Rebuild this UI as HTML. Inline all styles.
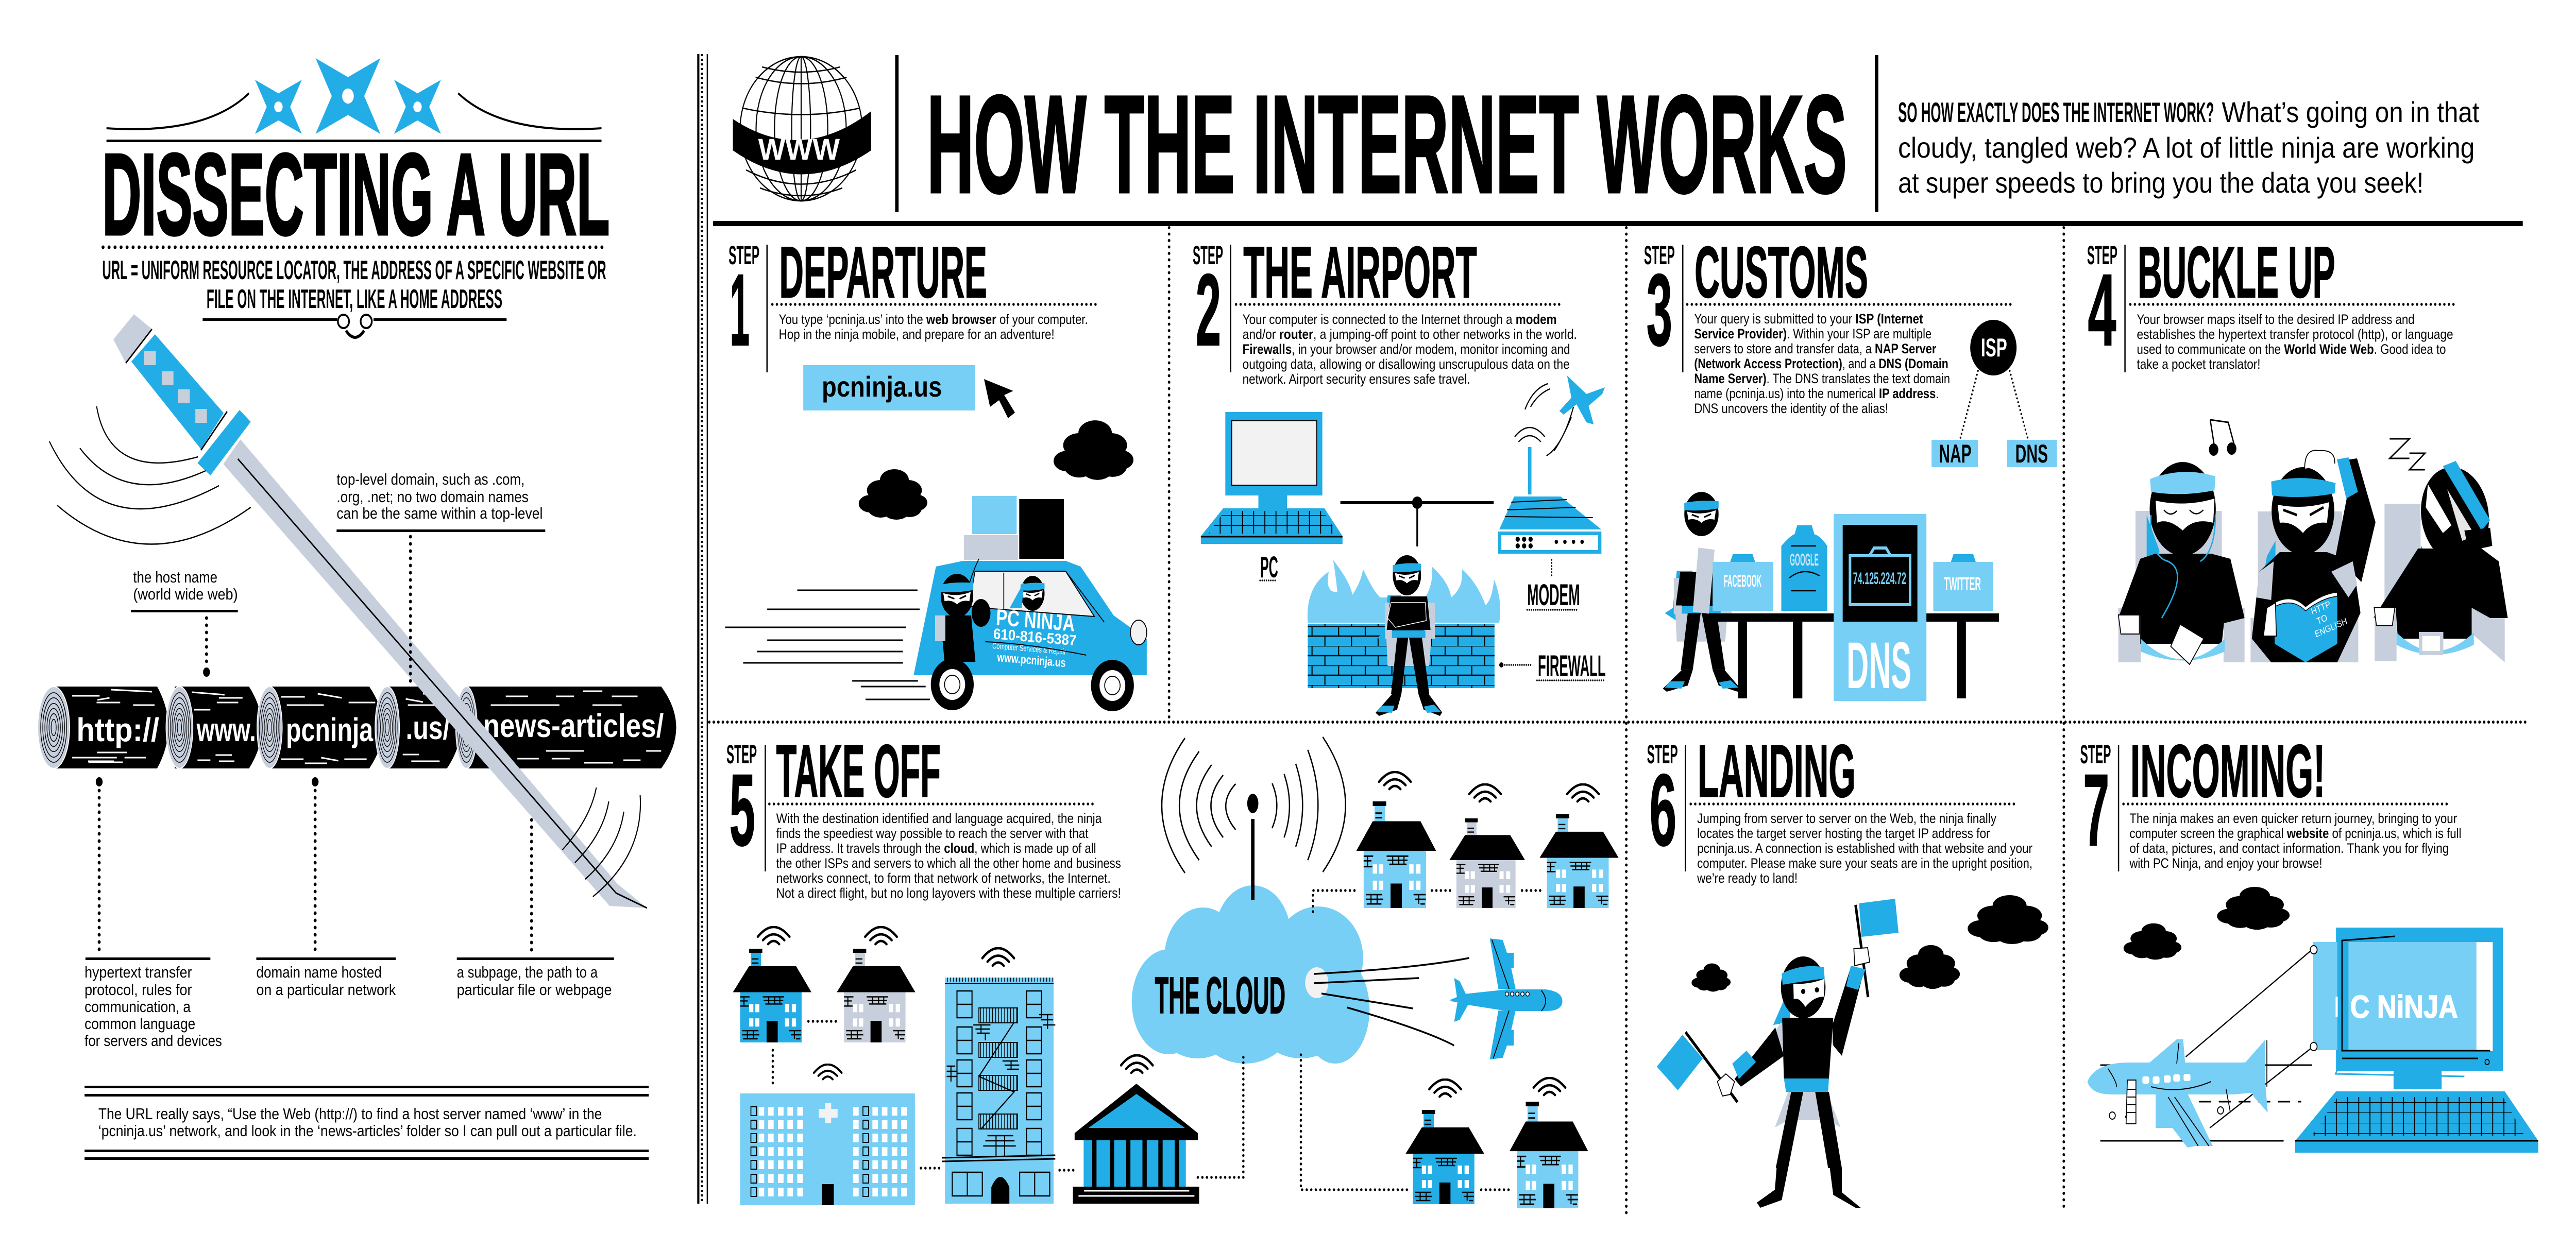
<!DOCTYPE html>
<html lang="en"><head><meta charset="utf-8"><title>How the Internet Works</title>
<style>
html,body{margin:0;padding:0;background:#fff;width:100%;height:100%;overflow:hidden}
svg.root{display:block;width:100vw;height:100vh}
text{font-family:"Liberation Sans",sans-serif}
.n{font-family:"Liberation Sans Narrow","Liberation Sans",sans-serif;font-weight:700}
.t{font-size:27px;fill:#000}
.c{font-size:31px;fill:#000}
.b{font-weight:700}
.w{fill:#fff}
.d{stroke:#000;stroke-width:7;stroke-linecap:round;stroke-dasharray:0 14;fill:none}
.s{stroke:#000;stroke-width:5.5;stroke-linecap:round;stroke-dasharray:0 10.6;fill:none}
.k{stroke:#000;stroke-width:3;fill:none}
.g{stroke:#000;stroke-width:2.5;fill:none}
.wl{stroke:#fff;stroke-width:3;fill:none}
</style></head><body>
<svg class="root" xmlns="http://www.w3.org/2000/svg" viewBox="0 0 6000 2427" preserveAspectRatio="none">
<defs>
<symbol id="shu" viewBox="-50 -50 100 100" preserveAspectRatio="none"><path d="M-50-50 0-25 50-50 25 0 50 50 0 25-50 50-25 0z" fill="#22ADE6"/><ellipse rx="9" ry="10" fill="#fff"/></symbol>
<symbol id="cl" viewBox="0 0 100 100" preserveAspectRatio="none"><g fill="#000"><circle cx="17" cy="68" r="17"/><circle cx="32" cy="42" r="20"/><circle cx="52" cy="22" r="21"/><circle cx="72" cy="42" r="20"/><circle cx="84" cy="66" r="16"/><circle cx="32" cy="76" r="19"/><circle cx="55" cy="78" r="21"/><circle cx="74" cy="76" r="18"/><circle cx="50" cy="55" r="25"/></g></symbol>
<symbol id="wf" viewBox="0 0 80 40" preserveAspectRatio="none"><g fill="none" stroke="#000" stroke-width="5" stroke-linecap="round"><path d="M3 22Q40-18 77 22"/><path d="M15 29Q40 5 65 29"/><path d="M27 37Q40 24 53 37"/></g></symbol>
<symbol id="rg" viewBox="-40 -82 80 164" preserveAspectRatio="none"><ellipse rx="38" ry="80" fill="#C8CFDC" stroke="#fff" stroke-width="2"/><g fill="none" stroke="#000" stroke-width="1.6"><ellipse rx="31" ry="68"/><ellipse rx="26" ry="58"/><ellipse rx="21" ry="47"/><ellipse rx="16" ry="37"/><ellipse rx="11" ry="27"/><ellipse rx="6" ry="16"/></g></symbol>
<symbol id="hs" viewBox="0 0 184 183" preserveAspectRatio="none">
<rect x="42" y="4" width="24" height="32" fill="currentColor"/><rect x="38" y="0" width="31" height="8" fill="#000"/>
<path d="M44 20h16M44 28h16" class="g"/>
<rect x="17" y="84" width="144" height="99" fill="currentColor"/>
<path d="M38 34H148L184 85H0z" fill="#000"/>
<rect x="79" y="141" width="26" height="42" fill="#000"/>
<g fill="#fff"><rect x="38" y="108" width="10" height="16"/><rect x="52" y="108" width="10" height="16"/><rect x="122" y="108" width="10" height="16"/><rect x="138" y="108" width="10" height="16"/><rect x="38" y="136" width="10" height="16"/><rect x="52" y="136" width="10" height="16"/><rect x="122" y="136" width="10" height="16"/><rect x="138" y="136" width="10" height="16"/></g>
<g class="g"><path d="M70 94h50M72 101h46M76 108h40M84 94v14M98 94v14M110 94v14"/><path d="M17 94h22M17 102h18M17 112h20M26 94v18"/><path d="M22 160h38M22 168h40M24 176h34M34 160v16M48 160v16"/><path d="M132 160h28M136 168h24M148 176h10M144 160v16"/></g>
</symbol>
<symbol id="nh" viewBox="0 0 100 140" preserveAspectRatio="none">
<ellipse cx="50" cy="70" rx="50" ry="70" fill="#000"/>
<path d="M-2 35Q50 24 102 30L100 52Q50 62 0 58z" fill="#22ADE6"/>
<path d="M8 62Q50 76 92 58L88 88Q66 82 50 98Q34 82 12 88z" fill="#fff"/>
<path d="M22 72 42 80M78 70 58 80" stroke="#000" stroke-width="5"/>
</symbol>
<symbol id="ns" viewBox="0 0 155 312" preserveAspectRatio="none">
<path d="M28 78 20 150 4 160 28 175 60 78z" fill="#22ADE6"/>
<rect x="22" y="92" width="30" height="70" fill="#C8CFDC"/>
<rect x="108" y="92" width="30" height="70" fill="#C8CFDC"/>
<path d="M35 80H120L128 145H112L110 160H42L38 145H26z" fill="#000"/>
<path d="M25 158H130L125 215H28z" fill="#C8CFDC"/>
<rect x="38" y="146" width="78" height="15" fill="#22ADE6"/>
<path d="M50 160H76L60 270H36zM78 160H108L125 270H100z" fill="#000"/>
<path d="M38 270H60L50 300 8 312 0 306zM100 270H124L155 305 150 312 112 300z" fill="#000"/>
<path d="M4 304l10-12 30 0-6 14zM152 304l-16-14-24 4 8 12z" fill="#22ADE6"/>
</symbol>
<pattern id="br" width="62" height="38" patternUnits="userSpaceOnUse"><path d="M0 0H62M0 19H62M18 0V19M48 19V38" stroke="#000" stroke-width="2.5" fill="none"/></pattern>
<pattern id="ky" width="26" height="20" patternUnits="userSpaceOnUse"><path d="M0 0H26M8 0V20" stroke="#000" stroke-width="2.2" fill="none"/></pattern>
<pattern id="hat" width="7" height="40" patternUnits="userSpaceOnUse"><path d="M2 0V40" stroke="#000" stroke-width="1.6"/></pattern>
</defs>
<rect width="6000" height="2427" fill="#fff"/>

<!-- LEFT PANEL -->
<use href="#shu" x="735" y="113" width="151" height="147"/>
<use href="#shu" x="594" y="155" width="109" height="105"/>
<use href="#shu" x="918" y="155" width="109" height="105"/>
<path d="M248 249Q480 262 580 181" stroke="#000" stroke-width="4" fill="none"/>
<path d="M1401 249Q1170 262 1067 181" stroke="#000" stroke-width="4" fill="none"/>
<rect x="248" y="271" width="1153" height="5" fill="#000"/>
<text class="n" x="238" y="455" font-size="225" textLength="1182" lengthAdjust="spacingAndGlyphs" stroke="#000" stroke-width="5">DISSECTING A URL</text>
<path class="d" d="M240 480H1412"/>
<text class="n" x="238" y="542" font-size="52" textLength="1174" lengthAdjust="spacingAndGlyphs">URL = UNIFORM RESOURCE LOCATOR, THE ADDRESS OF A SPECIFIC WEBSITE OR</text>
<text class="n" x="481" y="598" font-size="52" textLength="689" lengthAdjust="spacingAndGlyphs">FILE ON THE INTERNET, LIKE A HOME ADDRESS</text>
<rect x="472" y="618" width="313" height="5" fill="#000"/><rect x="870" y="618" width="310" height="5" fill="#000"/>
<circle cx="800" cy="624" r="13" fill="none" stroke="#000" stroke-width="4"/><circle cx="853" cy="624" r="13" fill="none" stroke="#000" stroke-width="4"/>
<path d="M806 642Q827 668 848 642" fill="none" stroke="#000" stroke-width="6"/>

<!-- logs -->
<path d="M125 1333H366Q418 1412 366 1492H125z" fill="#000"/>
<use href="#rg" x="86" y="1331" width="78" height="163"/>
<path d="M407 1333H580Q640 1412 580 1492H407z" fill="#000"/>
<use href="#rg" x="385" y="1331" width="66" height="163"/>
<path d="M625 1333H860Q925 1412 860 1492H625z" fill="#000"/>
<use href="#rg" x="597" y="1331" width="62" height="163"/>
<path d="M900 1333H1041Q1105 1412 1041 1492H900z" fill="#000"/>
<use href="#rg" x="872" y="1331" width="60" height="163"/>
<path d="M1086 1333H1540Q1610 1412 1540 1492H1086z" fill="#000"/>
<use href="#rg" x="1060" y="1331" width="53" height="163"/>
<g class="wl" stroke-width="2.5">
<path d="M168 1351h64M258 1339l96 4M255 1355l-28 4M225 1364h55M310 1369h50M168 1471h104M226 1461h70M205 1478h60M290 1471h50M206 1480h80"/>
<path d="M447 1344l76 5M510 1355h55M505 1364h50M452 1378h38M460 1476h30M502 1466h38M510 1478h36"/>
<path d="M655 1353h55M740 1347l56 8M812 1364h62M668 1369h86M655 1474h52M710 1482h52M748 1471l40 6M802 1474h52"/>
<path d="M985 1347h42M945 1357l40 6M950 1369h90M938 1465h38M958 1478h66"/>
<path d="M1178 1352h52M1295 1352h42M1358 1342h45M1425 1352h60M1143 1369h160M1380 1369h68M1205 1473h50M1272 1458h88M1285 1473h42M1360 1481h68M1452 1476h40M1505 1458h35"/>
</g>
<text class="b w" x="178" y="1439" font-size="64" textLength="193" lengthAdjust="spacingAndGlyphs">http://</text>
<text class="b w" x="458" y="1439" font-size="64" textLength="138" lengthAdjust="spacingAndGlyphs">www.</text>
<text class="b w" x="666" y="1439" font-size="64" textLength="203" lengthAdjust="spacingAndGlyphs">pcninja</text>
<text class="b w" x="945" y="1435" font-size="64" textLength="103" lengthAdjust="spacingAndGlyphs">.us/</text>
<text class="b w" x="1125" y="1431" font-size="64" textLength="421" lengthAdjust="spacingAndGlyphs">news-articles/</text>

<!-- sword -->
<path d="M520 901 560 853 1438 1716 1507 1763 1420 1759z" fill="#C8CFDC"/>
<path d="M554 891 1435 1734 1507 1763" fill="none" stroke="#000" stroke-width="3"/>
<path d="M312 610 264 659 293 705 354 639z" fill="#C8CFDC"/>
<path d="M361 649 306 702 468 872 521 802z" fill="#22ADE6"/>
<path d="M354 639 293 705M529 799 468 874" stroke="#000" stroke-width="3"/>
<g fill="#C8CFDC"><rect x="336" y="682" width="27" height="27"/><rect x="377" y="721" width="27" height="27"/><rect x="415" y="756" width="27" height="27"/><rect x="455" y="794" width="27" height="27"/></g>
<path d="M558 796 584 819 490 923 460 899z" fill="#22ADE6"/>
<g class="g"><path d="M225 789Q255 935 461 887"/><path d="M186 870Q290 985 479 914"/><path d="M115 857Q235 1065 510 943"/><path d="M133 981Q340 1130 584 985"/>
<path d="M1389 1529Q1375 1590 1310 1650"/><path d="M1418 1556Q1405 1620 1339 1675"/><path d="M1453 1576Q1440 1650 1363 1707"/><path d="M1491 1544Q1500 1660 1381 1741"/></g>

<!-- callouts -->
<text class="c" x="310" y="1131">the host name</text>
<text class="c" x="310" y="1164" textLength="244" lengthAdjust="spacingAndGlyphs">(world wide web)</text>
<rect x="305" y="1184" width="249" height="5" fill="#000"/>
<path class="d" d="M481 1200V1295" /><ellipse cx="481" cy="1305" rx="8" ry="9" fill="#000"/>
<text class="c" x="784" y="941" textLength="438" lengthAdjust="spacingAndGlyphs">top-level domain, such as .com,</text>
<text class="c" x="784" y="975" textLength="447" lengthAdjust="spacingAndGlyphs">.org, .net; no two domain names</text>
<text class="c" x="784" y="1007" textLength="480" lengthAdjust="spacingAndGlyphs">can be the same within a top-level</text>
<rect x="784" y="1028" width="486" height="5" fill="#000"/>
<path class="d" d="M956 1042V1333"/>
<ellipse cx="231" cy="1518" rx="8" ry="9" fill="#000"/><path class="d" d="M231 1535V1850"/>
<ellipse cx="734" cy="1518" rx="8" ry="9" fill="#000"/><path class="d" d="M734 1535V1850"/>
<path class="d" d="M1238 1592V1850"/>
<rect x="199" y="1859" width="291" height="5" fill="#000"/><rect x="597" y="1859" width="325" height="5" fill="#000"/><rect x="1064" y="1859" width="366" height="5" fill="#000"/>
<text class="c" x="197" y="1898" textLength="250" lengthAdjust="spacingAndGlyphs">hypertext transfer</text>
<text class="c" x="197" y="1932" textLength="250" lengthAdjust="spacingAndGlyphs">protocol, rules for</text>
<text class="c" x="197" y="1965" textLength="247" lengthAdjust="spacingAndGlyphs">communication, a</text>
<text class="c" x="197" y="1998" textLength="258" lengthAdjust="spacingAndGlyphs">common language</text>
<text class="c" x="197" y="2031" textLength="320" lengthAdjust="spacingAndGlyphs">for servers and devices</text>
<text class="c" x="597" y="1898" textLength="292" lengthAdjust="spacingAndGlyphs">domain name hosted</text>
<text class="c" x="597" y="1932" textLength="325" lengthAdjust="spacingAndGlyphs">on a particular network</text>
<text class="c" x="1064" y="1898" textLength="328" lengthAdjust="spacingAndGlyphs">a subpage, the path to a</text>
<text class="c" x="1064" y="1932" textLength="361" lengthAdjust="spacingAndGlyphs">particular file or webpage</text>
<g fill="#000"><rect x="197" y="2108" width="1314" height="5"/><rect x="197" y="2124" width="1314" height="5"/><rect x="197" y="2232" width="1314" height="5"/><rect x="197" y="2247" width="1314" height="5"/></g>
<text class="c" x="229" y="2173" textLength="1173" lengthAdjust="spacingAndGlyphs">The URL really says, “Use the Web (http://) to find a host server named ‘www’ in the</text>
<text class="c" x="229" y="2206" textLength="1254" lengthAdjust="spacingAndGlyphs">‘pcninja.us’ network, and look in the ‘news-articles’ folder so I can pull out a particular file.</text>

<!-- FRAME -->
<rect x="1624" y="105" width="5" height="2232" fill="#000"/>
<path d="M1635 105V2337" stroke="#000" stroke-width="5" stroke-dasharray="4 5" fill="none"/>
<rect x="1646" y="105" width="3" height="2232" fill="#000"/>
<rect x="1661" y="429" width="4215" height="10" fill="#000"/>
<path class="d" style="stroke-width:6;stroke-dasharray:0 10.6" d="M1652 1402H5890"/>
<path class="d" style="stroke-width:6;stroke-dasharray:0 12.5" d="M2723 442V1398"/>
<path class="d" style="stroke-width:6;stroke-dasharray:0 12.5" d="M3788 442V2363"/>
<path class="d" style="stroke-width:6;stroke-dasharray:0 12.5" d="M4807 442V2346"/>

<!-- HEADER -->
<g fill="none" stroke="#000" stroke-width="2.6">
<ellipse cx="1866" cy="250" rx="142" ry="140"/><ellipse cx="1866" cy="250" rx="105" ry="140"/><ellipse cx="1866" cy="250" rx="62" ry="140"/><ellipse cx="1866" cy="250" rx="22" ry="140"/>
<path d="M1866 110V390M1760 150Q1866 175 1972 150M1730 210Q1866 235 2002 210M1775 130Q1866 150 1957 130M1738 330Q1866 385 1994 330M1770 365Q1866 395 1962 365"/>
</g>
<path d="M1707 231Q1866 320 2029 216V292Q1866 385 1707 292z" fill="#000"/>
<text class="b w" x="1766" y="310" font-size="58" textLength="190" lengthAdjust="spacingAndGlyphs">WWW</text>
<rect x="2085" y="107" width="8" height="305" fill="#000"/>
<text class="n" x="2159" y="373" font-size="269" textLength="2143" lengthAdjust="spacingAndGlyphs" stroke="#000" stroke-width="5">HOW THE INTERNET WORKS</text>
<rect x="4367" y="107" width="8" height="305" fill="#000"/>
<text class="n" x="4421" y="237" font-size="55" textLength="736" lengthAdjust="spacingAndGlyphs">SO HOW EXACTLY DOES THE INTERNET WORK?</text>
<text x="5175" y="237" font-size="56" textLength="600" lengthAdjust="spacingAndGlyphs">What’s going on in that</text>
<text x="4421" y="306" font-size="56" textLength="1343" lengthAdjust="spacingAndGlyphs">cloudy, tangled web? A lot of little ninja are working</text>
<text x="4421" y="374" font-size="56" textLength="1224" lengthAdjust="spacingAndGlyphs">at super speeds to bring you the data you seek!</text>

<!-- STEP 1 -->
<text class="n" x="1697" y="513" font-size="51" textLength="72" lengthAdjust="spacingAndGlyphs">STEP</text>
<text class="n" x="1700" y="670" font-size="198" textLength="46" lengthAdjust="spacingAndGlyphs" stroke="#000" stroke-width="2">1</text>
<rect x="1785" y="475" width="3" height="248" fill="#000"/>
<text class="n" x="1815" y="577" font-size="141" textLength="484" lengthAdjust="spacingAndGlyphs" stroke="#000" stroke-width="2">DEPARTURE</text>
<path class="s" d="M1799 591H2559"/>
<text class="t" x="1814" y="629" textLength="720" lengthAdjust="spacingAndGlyphs">You type ‘pcninja.us’ into the <tspan class="b">web browser</tspan> of your computer.</text>
<text class="t" x="1814" y="658" textLength="642" lengthAdjust="spacingAndGlyphs">Hop in the ninja mobile, and prepare for an adventure!</text>
<rect x="1871" y="709" width="400" height="88" fill="#77CFF5"/>
<text class="b" x="1914" y="770" font-size="56" textLength="280" lengthAdjust="spacingAndGlyphs">pcninja.us</text>
<path d="M2292 736 2306 790 2327 777 2348 812 2364 801 2339 767 2360 759z" fill="#000"/>
<use href="#cl" x="2454" y="815" width="186" height="118"/>
<use href="#cl" x="2000" y="910" width="160" height="100"/>
<g stroke="#000" stroke-width="3"><path d="M1857 1146H2137M1787 1183H2142M1689 1218H2110M1787 1243H2103M1763 1265H2103M1731 1287H2103M1985 1322H2138M2005 1333H2156M2016 1358H2166"/></g>
<rect x="2264" y="963" width="104" height="74" fill="#77CFF5"/>
<rect x="2374" y="969" width="104" height="116" fill="#000"/>
<rect x="2245" y="1039" width="126" height="48" fill="#C8CFDC"/>
<path d="M2128 1311 2180 1100 2243 1089H2482L2517 1100 2594 1195 2671 1241V1311z" fill="#22ADE6"/>
<path d="M2271 1109H2482L2549 1197 2313 1182 2257 1177z" fill="#f2f2f2" stroke="#000" stroke-width="2"/>
<path d="M2338 1112V1184M2482 1109 2572 1208" stroke="#000" stroke-width="2"/>
<path d="M2280 1085Q2248 1140 2245 1200" fill="none" stroke="#000" stroke-width="2"/>
<use href="#nh" x="2377" y="1118" width="56" height="68"/>
<path d="M2385 1130 2352 1180H2380z" fill="#22ADE6"/>
<ellipse cx="2652" cy="1228" rx="19" ry="24" fill="#f2f2f2" stroke="#000" stroke-width="2"/>
<g transform="rotate(4 2319 1213)"><text class="n w" x="2319" y="1213" font-size="44" textLength="184" lengthAdjust="spacingAndGlyphs">PC NINJA</text></g>
<g transform="rotate(4 2313 1240)"><text class="b w" x="2313" y="1240" font-size="29" textLength="194" lengthAdjust="spacingAndGlyphs">610-816-5387</text></g>
<g transform="rotate(4 2311 1259)"><text class="w" x="2311" y="1259" font-size="16" textLength="172" lengthAdjust="spacingAndGlyphs">Computer Services &amp; Repair</text></g>
<g transform="rotate(4 2322 1284)"><text class="b w" x="2322" y="1284" font-size="24" textLength="160" lengthAdjust="spacingAndGlyphs">www.pcninja.us</text></g>
<path d="M2295 1246Q2400 1250 2530 1272" fill="none" stroke="#000" stroke-width="2"/>
<path d="M2190 1195H2262L2272 1285H2200z" fill="#000"/>
<rect x="2178" y="1195" width="24" height="50" fill="#C8CFDC"/>
<ellipse cx="2285" cy="1190" rx="22" ry="27" fill="#000"/>
<use href="#nh" x="2191" y="1114" width="76" height="85"/>
<g><circle cx="2218" cy="1329" r="50" fill="#000"/><circle cx="2218" cy="1329" r="30" fill="#fff"/><circle cx="2218" cy="1329" r="18" fill="none" stroke="#000" stroke-width="2"/></g>
<g><circle cx="2591" cy="1331" r="50" fill="#000"/><circle cx="2591" cy="1331" r="30" fill="#fff"/><circle cx="2591" cy="1331" r="18" fill="none" stroke="#000" stroke-width="2"/></g>

<!-- STEP 2 -->
<text class="n" x="2778" y="513" font-size="51" textLength="71" lengthAdjust="spacingAndGlyphs">STEP</text>
<text class="n" x="2785" y="670" font-size="198" textLength="59" lengthAdjust="spacingAndGlyphs" stroke="#000" stroke-width="2">2</text>
<rect x="2865" y="475" width="3" height="248" fill="#000"/>
<text class="n" x="2896" y="577" font-size="141" textLength="544" lengthAdjust="spacingAndGlyphs" stroke="#000" stroke-width="2">THE AIRPORT</text>
<path class="s" d="M2879 591H3639"/>
<text class="t" x="2894" y="629" textLength="732" lengthAdjust="spacingAndGlyphs">Your computer is connected to the Internet through a <tspan class="b">modem</tspan></text>
<text class="t" x="2894" y="658" textLength="779" lengthAdjust="spacingAndGlyphs">and/or <tspan class="b">router</tspan>, a jumping-off point to other networks in the world.</text>
<text class="t" x="2894" y="687" textLength="763" lengthAdjust="spacingAndGlyphs"><tspan class="b">Firewalls</tspan>, in your browser and/or modem, monitor incoming and</text>
<text class="t" x="2894" y="716" textLength="762" lengthAdjust="spacingAndGlyphs">outgoing data, allowing or disallowing unscrupulous data on the</text>
<text class="t" x="2894" y="745" textLength="530" lengthAdjust="spacingAndGlyphs">network. Airport security ensures safe travel.</text>
<rect x="2854" y="800" width="226" height="162" fill="#22ADE6"/>
<rect x="2869" y="817" width="198" height="125" fill="#f2f2f2" stroke="#000" stroke-width="2"/>
<rect x="2931" y="962" width="67" height="25" fill="#22ADE6"/>
<path d="M2849 987H3085L3127 1041V1056H2797V1041z" fill="#22ADE6"/>
<path d="M2852 992H3082L3115 1036H2815z" fill="url(#ky)"/>
<path d="M2797 1042H3127" stroke="#000" stroke-width="3"/>
<rect x="3122" y="973" width="357" height="6" fill="#000"/><circle cx="3301" cy="976" r="12" fill="#000"/><rect x="3299" y="976" width="4" height="85" fill="#000"/>
<path d="M3527 964H3635L3730 1028H3492z" fill="#22ADE6"/>
<path d="M3520 975 3650 970M3510 990 3670 985M3505 1003 3710 1005" stroke="#000" stroke-width="2"/>
<rect x="3489" y="1032" width="241" height="43" fill="#22ADE6"/><rect x="3497" y="1039" width="225" height="29" fill="#fff"/>
<g fill="#000"><circle cx="3535" cy="1047" r="5"/><circle cx="3550" cy="1047" r="5"/><circle cx="3565" cy="1047" r="5"/><circle cx="3535" cy="1060" r="5"/><circle cx="3550" cy="1060" r="5"/><circle cx="3565" cy="1060" r="5"/><circle cx="3625" cy="1052" r="4"/><circle cx="3645" cy="1052" r="4"/><circle cx="3665" cy="1052" r="4"/><circle cx="3685" cy="1052" r="4"/></g>
<rect x="3559" y="868" width="8" height="92" fill="#22ADE6"/>
<g class="g"><path d="M3528 848Q3563 812 3598 848M3537 858Q3563 834 3589 858"/><path d="M3552 795Q3570 755 3605 745M3565 790Q3582 765 3610 755"/><path d="M3602 885Q3640 865 3665 790M3620 875Q3640 850 3660 810"/></g>
<path d="M3650 729 3695 765 3738 752 3732 765 3700 788 3712 824 3695 820 3672 785 3642 805 3632 798 3660 772z" fill="#22ADE6"/>
<text class="n" x="2935" y="1121" font-size="58" textLength="42" lengthAdjust="spacingAndGlyphs">PC</text>
<path class="s" style="stroke-width:3.5;stroke-dasharray:0 5" d="M2935 1127H2973"/>
<text class="n" x="3557" y="1175" font-size="58" textLength="123" lengthAdjust="spacingAndGlyphs">MODEM</text>
<path class="s" style="stroke-width:3.5;stroke-dasharray:0 5" d="M3557 1184H3676"/>
<path class="s" style="stroke-width:3.5;stroke-dasharray:0 6" d="M3614 1087V1123"/>
<text class="n" x="3582" y="1313" font-size="58" textLength="158" lengthAdjust="spacingAndGlyphs">FIREWALL</text>
<path class="s" style="stroke-width:3.5;stroke-dasharray:0 5" d="M3580 1321H3740M3505 1291H3569"/><circle cx="3497" cy="1291" r="5" fill="#000"/>
<path d="M3046 1209Q3040 1140 3095 1110 3085 1150 3115 1150 3110 1110 3105 1087 3145 1130 3150 1155 3170 1130 3175 1105 3200 1150 3215 1160L3320 1160Q3340 1130 3335 1100 3375 1130 3380 1160 3410 1140 3405 1105 3440 1130 3460 1175 3475 1165 3480 1125 3500 1165 3492 1209z" fill="#77CFF5"/>
<rect x="3046" y="1211" width="435" height="125" fill="#22ADE6"/><rect x="3046" y="1211" width="435" height="125" fill="url(#br)"/>
<use href="#ns" x="3204" y="1078" width="155" height="312"/>
<path d="M3240 1170H3320L3322 1205 3250 1218 3232 1200z" fill="#000" stroke="#fff" stroke-width="1.5"/>
<use href="#nh" x="3244" y="1078" width="66" height="78"/>

<!-- STEP 3 -->
<text class="n" x="3829" y="513" font-size="51" textLength="72" lengthAdjust="spacingAndGlyphs">STEP</text>
<text class="n" x="3835" y="670" font-size="198" textLength="60" lengthAdjust="spacingAndGlyphs" stroke="#000" stroke-width="2">3</text>
<rect x="3918" y="475" width="3" height="248" fill="#000"/>
<text class="n" x="3947" y="577" font-size="141" textLength="404" lengthAdjust="spacingAndGlyphs" stroke="#000" stroke-width="2">CUSTOMS</text>
<path class="s" d="M3930 591H4691"/>
<text class="t" x="3946" y="628" textLength="533" lengthAdjust="spacingAndGlyphs">Your query is submitted to your <tspan class="b">ISP (Internet</tspan></text>
<text class="t" x="3946" y="657" textLength="553" lengthAdjust="spacingAndGlyphs"><tspan class="b">Service Provider)</tspan>. Within your ISP are multiple</text>
<text class="t" x="3946" y="686" textLength="564" lengthAdjust="spacingAndGlyphs">servers to store and transfer data, a <tspan class="b">NAP Server</tspan></text>
<text class="t" x="3946" y="715" textLength="592" lengthAdjust="spacingAndGlyphs"><tspan class="b">(Network Access Protection)</tspan>, and a <tspan class="b">DNS (Domain</tspan></text>
<text class="t" x="3946" y="744" textLength="596" lengthAdjust="spacingAndGlyphs"><tspan class="b">Name Server)</tspan>. The DNS translates the text domain</text>
<text class="t" x="3946" y="773" textLength="570" lengthAdjust="spacingAndGlyphs">name (pcninja.us) into the numerical <tspan class="b">IP address</tspan>.</text>
<text class="t" x="3946" y="802" textLength="452" lengthAdjust="spacingAndGlyphs">DNS uncovers the identity of the alias!</text>
<circle cx="4643" cy="675" r="54" fill="#000"/>
<text class="n w" x="4614" y="692" font-size="50" textLength="61" lengthAdjust="spacingAndGlyphs">ISP</text>
<path class="s" style="stroke-width:4;stroke-dasharray:0 8" d="M4607 720 4566 851M4681 720 4723 851"/>
<rect x="4499" y="854" width="108" height="53" fill="#77CFF5"/><rect x="4675" y="854" width="116" height="53" fill="#77CFF5"/>
<text class="n" x="4516" y="898" font-size="50" textLength="76" lengthAdjust="spacingAndGlyphs">NAP</text>
<text class="n" x="4694" y="898" font-size="50" textLength="76" lengthAdjust="spacingAndGlyphs">DNS</text>
<use href="#ns" x="3873" y="1030" width="180" height="313"/>
<rect x="3950" y="1065" width="38" height="125" fill="#C8CFDC" transform="rotate(6 3969 1120)"/>
<use href="#nh" x="3923" y="955" width="80" height="86"/>
<rect x="3989" y="1191" width="667" height="16" fill="#000"/>
<rect x="4048" y="1207" width="21" height="149" fill="#000"/><rect x="4176" y="1207" width="22" height="149" fill="#000"/><rect x="4558" y="1207" width="21" height="149" fill="#000"/>
<rect x="4271" y="998" width="216" height="363" fill="#77CFF5"/>
<rect x="4292" y="1019" width="174" height="188" fill="#000"/>
<rect x="4309" y="1079" width="140" height="95" fill="none" stroke="#77CFF5" stroke-width="6"/>
<path d="M4355 1078 4365 1064H4393L4403 1078" fill="none" stroke="#77CFF5" stroke-width="6"/>
<text class="n" x="4316" y="1134" font-size="32" fill="#77CFF5" textLength="124" lengthAdjust="spacingAndGlyphs">74.125.224.72</text>
<text class="n w" x="4301" y="1336" font-size="128" textLength="151" lengthAdjust="spacingAndGlyphs">DNS</text>
<rect x="3989" y="1091" width="141" height="95" fill="#77CFF5"/><path d="M4030 1091 4036 1076H4082L4088 1091z" fill="#22ADE6"/>
<text class="n w" x="4015" y="1139" font-size="33" textLength="88" lengthAdjust="spacingAndGlyphs">FACEBOOK</text>
<path d="M4149 1060Q4170 1040 4180 1037H4225Q4240 1040 4256 1060V1186H4149z" fill="#22ADE6"/><path d="M4180 1037 4186 1020H4220L4226 1037z" fill="#22ADE6"/>
<text class="n" x="4169" y="1098" font-size="33" fill="#C8E8F8" textLength="67" lengthAdjust="spacingAndGlyphs">GOOGLE</text>
<path d="M4172 1060H4230M4172 1147H4230M4168 1122Q4200 1100 4238 1118" class="g"/>
<rect x="4503" y="1091" width="139" height="95" fill="#77CFF5"/><path d="M4544 1091 4550 1076H4596L4602 1091z" fill="#22ADE6"/>
<text class="n w" x="4528" y="1146" font-size="36" textLength="86" lengthAdjust="spacingAndGlyphs">TWITTER</text>

<!-- STEP 4 -->
<text class="n" x="4861" y="513" font-size="51" textLength="71" lengthAdjust="spacingAndGlyphs">STEP</text>
<text class="n" x="4863" y="670" font-size="198" textLength="66" lengthAdjust="spacingAndGlyphs" stroke="#000" stroke-width="2">4</text>
<rect x="4948" y="475" width="3" height="248" fill="#000"/>
<text class="n" x="4979" y="577" font-size="141" textLength="460" lengthAdjust="spacingAndGlyphs" stroke="#000" stroke-width="2">BUCKLE UP</text>
<path class="s" d="M4962 591H5722"/>
<text class="t" x="4977" y="629" textLength="647" lengthAdjust="spacingAndGlyphs">Your browser maps itself to the desired IP address and</text>
<text class="t" x="4977" y="658" textLength="737" lengthAdjust="spacingAndGlyphs">establishes the hypertext transfer protocol (http), or language</text>
<text class="t" x="4977" y="687" textLength="720" lengthAdjust="spacingAndGlyphs">used to communicate on the <tspan class="b">World Wide Web</tspan>. Good idea to</text>
<text class="t" x="4977" y="716" textLength="288" lengthAdjust="spacingAndGlyphs">take a pocket translator!</text>
<!-- notes / z -->
<path d="M5148 815 5190 820 5206 870M5148 815 5158 868" fill="none" stroke="#000" stroke-width="3"/>
<ellipse cx="5156" cy="873" rx="11" ry="12" fill="#000"/><ellipse cx="5198" cy="871" rx="11" ry="12" fill="#000"/>
<path d="M5566 852H5612L5566 890H5612M5612 880H5648L5612 912H5648" fill="none" stroke="#000" stroke-width="3"/>
<!-- ninja 1 -->
<g fill="#C8CFDC"><rect x="4974" y="992" width="201" height="200"/><rect x="4934" y="1180" width="52" height="106"/><rect x="5179" y="1180" width="49" height="106"/></g>
<path d="M5015 1100 5030 1070 5000 1000 5000 1100z" fill="#22ADE6"/>
<path d="M5020 1075H5150L5195 1085 5228 1200 5180 1210 5175 1250H4985V1195H4936L4985 1085z" fill="#000"/>
<path d="M4986 1240Q5084 1320 5182 1240V1265Q5084 1300 4986 1265z" fill="#77CFF5"/>
<ellipse cx="5084" cy="988" rx="77" ry="91" fill="#000"/>
<path d="M5008 930Q5084 905 5160 925L5158 952Q5084 965 5010 955z" fill="#77CFF5"/>
<path d="M5021 972Q5090 985 5158 968L5155 1015Q5110 1005 5084 1030 5050 1005 5024 1015z" fill="#fff"/>
<path d="M5040 990Q5055 1005 5070 992M5100 990Q5115 1005 5132 990" fill="none" stroke="#000" stroke-width="2.5"/>
<path d="M5010 1000Q5005 1080 5050 1090 5100 1110 5035 1200M5160 1000Q5160 1070 5125 1090" fill="none" stroke="#22ADE6" stroke-width="3"/>
<path d="M4934 1194H4983V1231H4940z" fill="#fff" stroke="#000" stroke-width="2"/>
<path d="M5078 1212 5133 1240 5100 1290 5056 1255z" fill="#fff" stroke="#000" stroke-width="2"/>
<!-- ninja 2 -->
<g fill="#C8CFDC"><rect x="5259" y="993" width="196" height="200"/><rect x="5242" y="1200" width="48" height="86"/><rect x="5444" y="1200" width="49" height="86"/></g>
<path d="M5300 1050 5280 1080 5268 1140 5300 1110z" fill="#22ADE6"/>
<path d="M5310 1072H5420L5480 1090 5498 1190 5444 1286H5290L5245 1240 5262 1110z" fill="#000"/>
<path d="M5440 1080 5470 950 5450 895 5490 890 5533 1014 5500 1130z" fill="#000"/>
<path d="M5443 892 5470 888 5492 955 5465 968z" fill="#22ADE6"/>
<path d="M5262 1110 5296 1090 5290 1165 5255 1160z" fill="#C8CFDC"/><path d="M5430 1110 5480 1090 5490 1135 5470 1160z" fill="#C8CFDC"/>
<ellipse cx="5364" cy="992" rx="73" ry="85" fill="#000"/>
<path d="M5290 935Q5364 920 5440 938L5438 958Q5364 970 5292 962z" fill="#22ADE6"/>
<path d="M5305 980Q5364 990 5425 975L5420 1015Q5385 1012 5364 1035 5340 1012 5310 1015z" fill="#fff"/>
<path d="M5318 990 5350 1000M5412 985 5380 1000" stroke="#000" stroke-width="5"/>
<path d="M5368 910Q5368 870 5400 875 5440 872 5438 900" fill="#fff" stroke="#000" stroke-width="2"/>
<path d="M5298 1170Q5340 1152 5370 1178 5410 1152 5444 1150V1250L5370 1286 5298 1250z" fill="#22ADE6"/>
<path d="M5298 1170Q5340 1152 5370 1178 5410 1152 5444 1150L5444 1158Q5410 1160 5370 1186 5340 1160 5298 1178z" fill="#fff" stroke="#000" stroke-width="1.5"/>
<path d="M5280 1180 5300 1170 5302 1235 5272 1235z" fill="#fff" stroke="#000" stroke-width="2"/>
<g transform="rotate(-20 5400 1210)" fill="#fff" font-size="18"><text x="5392" y="1190">HTTP</text><text x="5398" y="1212">TO</text><text x="5385" y="1234">ENGLISH</text></g>
<!-- ninja 3 -->
<g fill="#C8CFDC"><rect x="5554" y="978" width="84" height="222"/><rect x="5531" y="1200" width="51" height="84"/><path d="M5757 1170H5834V1286L5757 1230z"/></g>
<path d="M5640 1060 5610 1130 5660 1100z" fill="#22ADE6"/>
<path d="M5632 1065H5780L5820 1090 5841 1200 5800 1200 5757 1180V1240H5585L5580 1180 5528 1200z" fill="#000"/>
<path d="M5582 1228Q5670 1300 5762 1228V1252Q5670 1290 5582 1252z" fill="#77CFF5"/>
<rect x="5638" y="1231" width="49" height="37" fill="#fff" stroke="#C8CFDC" stroke-width="8"/>
<ellipse cx="5718" cy="1000" rx="78" ry="94" fill="#000" transform="rotate(-15 5718 1000)"/>
<path d="M5690 905 5720 895 5800 1010 5780 1030z" fill="#22ADE6"/>
<path d="M5655 940 5710 1020 5690 1035 5650 985z" fill="#fff"/><path d="M5700 950 5765 1040 5735 1050z" fill="#fff" opacity=".9"/>
<path d="M5740 1030 5800 1025 5805 1060 5750 1070z" fill="#000"/>
<path d="M5530 1180H5578L5572 1215 5535 1214z" fill="#fff" stroke="#000" stroke-width="2"/>

<!-- STEP 5 -->
<text class="n" x="1692" y="1482" font-size="51" textLength="71" lengthAdjust="spacingAndGlyphs">STEP</text>
<text class="n" x="1699" y="1641" font-size="198" textLength="60" lengthAdjust="spacingAndGlyphs" stroke="#000" stroke-width="2">5</text>
<rect x="1781" y="1446" width="3" height="246" fill="#000"/>
<text class="n" x="1808" y="1547" font-size="145" textLength="383" lengthAdjust="spacingAndGlyphs" stroke="#000" stroke-width="2">TAKE OFF</text>
<path class="s" d="M1792 1561H2555"/>
<text class="t" x="1808" y="1598" textLength="758" lengthAdjust="spacingAndGlyphs">With the destination identified and language acquired, the ninja</text>
<text class="t" x="1808" y="1627" textLength="727" lengthAdjust="spacingAndGlyphs">finds the speediest way possible to reach the server with that</text>
<text class="t" x="1808" y="1656" textLength="745" lengthAdjust="spacingAndGlyphs">IP address. It travels through the <tspan class="b">cloud</tspan>, which is made up of all</text>
<text class="t" x="1808" y="1685" textLength="803" lengthAdjust="spacingAndGlyphs">the other ISPs and servers to which all the other home and business</text>
<text class="t" x="1808" y="1714" textLength="779" lengthAdjust="spacingAndGlyphs">networks connect, to form that network of networks, the Internet.</text>
<text class="t" x="1808" y="1743" textLength="803" lengthAdjust="spacingAndGlyphs">Not a direct flight, but no long layovers with these multiple carriers!</text>
<!-- cloud -->
<g fill="#77CFF5"><ellipse cx="2918" cy="1815" rx="88" ry="96"/><ellipse cx="2802" cy="1860" rx="90" ry="98"/><ellipse cx="3070" cy="1860" rx="105" ry="100"/><ellipse cx="2722" cy="1945" rx="86" ry="102"/><ellipse cx="3110" cy="1960" rx="80" ry="105"/><ellipse cx="2790" cy="1990" rx="90" ry="65"/><ellipse cx="2900" cy="1985" rx="110" ry="80"/><ellipse cx="3030" cy="1985" rx="100" ry="70"/><rect x="2750" y="1850" width="340" height="130"/></g>
<rect x="2914" y="1590" width="8" height="157" fill="#000"/><ellipse cx="2918" cy="1560" rx="13" ry="19" fill="#000"/>
<g fill="none" stroke="#000" stroke-width="3">
<path d="M2760 1433Q2652 1564 2760 1695M2793 1459Q2701 1564 2793 1670M2822 1485Q2752 1564 2822 1644M2849 1505Q2792 1564 2849 1626M2878 1522Q2832 1564 2878 1611"/>
<path d="M3081 1431Q3187 1564 3081 1693M3046 1456Q3094 1564 3046 1670M3018 1483Q3050 1564 3018 1644M2991 1503Q3016 1564 2991 1626M2963 1521Q2985 1564 2963 1608"/>
</g>
<text class="n" x="2690" y="1967" font-size="100" textLength="304" lengthAdjust="spacingAndGlyphs" stroke="#000" stroke-width="2">THE CLOUD</text>
<ellipse cx="3067" cy="1908" rx="27" ry="30" fill="#f2f2f2"/>
<g fill="none" stroke="#000" stroke-width="3.5"><path d="M3060 1891Q3300 1880 3422 1860"/><path d="M3060 1909 3305 1899"/><path d="M3078 1929 3291 1958"/><path d="M3137 1956Q3320 2000 3387 2030"/></g>
<!-- plane right -->
<path d="M3376 1942 3410 1930 3510 1921H3600Q3639 1925 3639 1944 3639 1963 3600 1963H3510L3410 1950z" fill="#22ADE6"/>
<path d="M3470 1822 3500 1825 3510 1850H3526V1880H3520L3530 1920H3490z M3470 2057 3500 2054 3510 2030H3526V2000H3520L3530 1962H3490z M3387 1899 3400 1905 3420 1940 3380 1945 3405 1945 3420 1950 3400 1980 3387 1984 3395 1945z" fill="#22ADE6"/>
<path d="M3475 1825 3515 1920M3478 2055 3515 1962M3590 1923Q3610 1944 3590 1963" fill="none" stroke="#000" stroke-width="2"/>
<g fill="#fff" stroke="#000" stroke-width="1.5"><circle cx="3510" cy="1930" r="4"/><circle cx="3522" cy="1930" r="4"/><circle cx="3534" cy="1930" r="4"/><circle cx="3546" cy="1930" r="4"/><circle cx="3558" cy="1930" r="4"/></g>
<!-- houses -->
<use href="#hs" x="3159" y="1556" width="186" height="207" color="#77CFF5"/>
<use href="#hs" x="3376" y="1589" width="176" height="174" color="#C8CFDC"/>
<use href="#hs" x="3586" y="1581" width="184" height="182" color="#77CFF5"/>
<use href="#hs" x="1707" y="1842" width="183" height="182" color="#22ADE6"/>
<use href="#hs" x="1949" y="1842" width="183" height="182" color="#C8CFDC"/>
<use href="#hs" x="3274" y="2155" width="183" height="183" color="#22ADE6"/>
<use href="#hs" x="3516" y="2139" width="183" height="207" color="#77CFF5"/>
<use href="#wf" x="3209" y="1497" width="80" height="38"/><use href="#wf" x="3419" y="1521" width="80" height="38"/><use href="#wf" x="3647" y="1521" width="80" height="38"/>
<use href="#wf" x="1762" y="1798" width="80" height="38"/><use href="#wf" x="2012" y="1798" width="80" height="38"/>
<use href="#wf" x="1893" y="2065" width="70" height="33"/><use href="#wf" x="2285" y="1839" width="80" height="39"/>
<use href="#wf" x="2608" y="2047" width="80" height="39"/><use href="#wf" x="3326" y="2094" width="80" height="38"/><use href="#wf" x="3569" y="2091" width="80" height="38"/>
<!-- hospital -->
<rect x="1724" y="2123" width="407" height="217" fill="#77CFF5"/>
<rect x="1914" y="2299" width="28" height="41" fill="#000"/>
<path d="M1922 2142H1936V2153H1951V2170H1936V2181H1922V2170H1907V2153H1922z" fill="#f2f2f2"/>
<g fill="#fff"><g id="hr"><rect x="1749" y="2149" width="13" height="17" fill="none" stroke="#000" stroke-width="2"/><rect x="1767" y="2149" width="13" height="17"/><rect x="1789" y="2149" width="13" height="17"/><rect x="1812" y="2149" width="13" height="17"/><rect x="1834" y="2149" width="13" height="17"/><rect x="1857" y="2149" width="13" height="17"/><rect x="1987" y="2149" width="13" height="17"/><rect x="2010" y="2149" width="13" height="17" fill="none" stroke="#000" stroke-width="2"/><rect x="2032" y="2149" width="13" height="17"/><rect x="2054" y="2149" width="13" height="17"/><rect x="2077" y="2149" width="13" height="17"/><rect x="2099" y="2149" width="13" height="17"/></g>
<use href="#hr" y="26"/><use href="#hr" y="52"/><use href="#hr" y="78"/><use href="#hr" y="104"/><use href="#hr" y="131"/><use href="#hr" y="157"/></g>
<!-- apartment -->
<rect x="2201" y="1898" width="253" height="439" fill="#77CFF5"/>
<rect x="2201" y="1898" width="253" height="8" fill="url(#hat)"/><path d="M2201 1910H2454" stroke="#000" stroke-width="2"/>
<g fill="none" stroke="#000" stroke-width="2.5"><g id="ar"><rect x="2229" y="1924" width="35" height="52"/><path d="M2229 1950H2264"/><rect x="2391" y="1924" width="35" height="52"/><path d="M2391 1950H2426"/></g><use href="#ar" y="70"/><use href="#ar" y="134"/><use href="#ar" y="198"/><use href="#ar" y="267"/>
<path d="M2280 2090 2362 1985M2280 2090 2362 2120 2285 2192"/></g>
<g fill="url(#hat)" stroke="#000" stroke-width="2"><rect x="2280" y="1957" width="90" height="29"/><rect x="2280" y="2024" width="90" height="29"/><rect x="2280" y="2088" width="90" height="29"/><rect x="2280" y="2163" width="90" height="29"/></g>
<path d="M2194 2248 2458 2243M2194 2255 2458 2250" stroke="#000" stroke-width="3"/>
<g fill="none" stroke="#000" stroke-width="2.5"><rect x="2218" y="2276" width="70" height="46"/><path d="M2253 2276V2322"/><rect x="2375" y="2276" width="70" height="46"/><path d="M2410 2276V2322"/></g>
<path d="M2309 2337V2305Q2330 2265 2351 2305V2337z" fill="#000"/>
<g class="g"><path d="M2267 1990h40M2272 1998h34M2275 2006h30M2285 1990v16M2295 2006v14"/><path d="M2420 1970h32M2425 1980h28M2430 1990h28M2440 1970v28"/><path d="M2335 2060h36M2340 2068h34M2345 2076h28M2355 2060v18"/><path d="M2205 2070h20M2205 2080h25M2205 2090h24M2215 2070v30"/><path d="M2300 2205h60M2295 2215h68M2290 2225h76M2320 2205v40M2340 2205v40"/></g>
<!-- bank -->
<rect x="2524" y="2200" width="238" height="104" fill="#22ADE6"/>
<path d="M2647 2104 2790 2200V2214H2503V2200z" fill="#000"/><path d="M2647 2124 2760 2190H2535z" fill="#22ADE6"/>
<g fill="#000"><rect x="2544" y="2214" width="10" height="90"/><rect x="2585" y="2214" width="10" height="90"/><rect x="2623" y="2214" width="10" height="90"/><rect x="2661" y="2214" width="10" height="90"/><rect x="2698" y="2214" width="10" height="90"/><rect x="2736" y="2214" width="10" height="90"/></g>
<rect x="2499" y="2304" width="294" height="33" fill="#000"/><path d="M2525 2312H2770M2512 2322H2782" stroke="#fff" stroke-width="3"/>
<!-- connectors -->
<g class="s"><path d="M1883 1983H1951"/><path d="M1800 2039V2107"/><path d="M2145 2268H2190"/><path d="M2468 2272H2510"/><path d="M2790 2286H2896V2052"/><path d="M3030 2048V2310H3277"/><path d="M3450 2310H3520"/><path d="M3058 1770V1729H3165"/><path d="M3335 1729H3380"/><path d="M3545 1729H3590"/></g>

<!-- STEP 6 -->
<text class="n" x="3836" y="1482" font-size="51" textLength="72" lengthAdjust="spacingAndGlyphs">STEP</text>
<text class="n" x="3842" y="1641" font-size="198" textLength="63" lengthAdjust="spacingAndGlyphs" stroke="#000" stroke-width="2">6</text>
<rect x="3924" y="1446" width="3" height="246" fill="#000"/>
<text class="n" x="3954" y="1547" font-size="145" textLength="368" lengthAdjust="spacingAndGlyphs" stroke="#000" stroke-width="2">LANDING</text>
<path class="s" d="M3938 1561H4698"/>
<text class="t" x="3953" y="1598" textLength="697" lengthAdjust="spacingAndGlyphs">Jumping from server to server on the Web, the ninja finally</text>
<text class="t" x="3953" y="1627" textLength="682" lengthAdjust="spacingAndGlyphs">locates the target server hosting the target IP address for</text>
<text class="t" x="3953" y="1656" textLength="781" lengthAdjust="spacingAndGlyphs">pcninja.us. A connection is established with that website and your</text>
<text class="t" x="3953" y="1685" textLength="781" lengthAdjust="spacingAndGlyphs">computer. Please make sure your seats are in the upright position,</text>
<text class="t" x="3953" y="1714" textLength="234" lengthAdjust="spacingAndGlyphs">we’re ready to land!</text>
<use href="#cl" x="4583" y="1737" width="188" height="97"/>
<use href="#cl" x="4424" y="1834" width="141" height="87"/>
<use href="#cl" x="3940" y="1870" width="91" height="56"/>
<path d="M4330 1754 4414 1745 4422 1811 4336 1819z" fill="#22ADE6"/>
<path d="M4322 1757 4351 1936" stroke="#000" stroke-width="6"/>
<path d="M3919 2009 3859 2071 3908 2117 3966 2055z" fill="#22ADE6"/>
<path d="M3926 2004 4047 2140" stroke="#000" stroke-width="6"/>
<path d="M4130 1990 4168 1917 4170 1985z" fill="#22ADE6"/>
<path d="M4148 1985 4125 2015 4150 2040 4175 2005zM4270 1985 4250 2000 4270 2030 4290 1995z" fill="#C8CFDC"/>
<path d="M4268 1990 4310 1880 4340 1890 4290 2050 4270 2030z" fill="#000"/>
<path d="M4311 1875 4345 1882 4328 1922 4300 1915z" fill="#22ADE6"/>
<path d="M4318 1842 4350 1840 4355 1868 4320 1875z" fill="#fff" stroke="#000" stroke-width="2"/>
<path d="M4135 1995 4040 2095 4055 2110 4155 2050z" fill="#000"/>
<path d="M4035 2065 4068 2040 4090 2062 4050 2095z" fill="#22ADE6"/>
<path d="M4000 2100 4020 2085 4040 2100 4030 2125 4012 2128z" fill="#fff" stroke="#000" stroke-width="2"/>
<path d="M4151 1976H4270L4260 2094H4155z" fill="#000"/>
<path d="M4134 2189 4165 2120H4255L4287 2189 4260 2175H4165z" fill="#C8CFDC"/>
<path d="M4155 2094 4260 2094 4258 2120H4160z" fill="#22ADE6"/>
<path d="M4172 2120H4200L4165 2268H4136zM4228 2120H4260L4290 2268H4258z" fill="#000"/>
<path d="M4138 2268H4165L4150 2330 4100 2345 4092 2335 4134 2310zM4262 2268H4290L4290 2315 4334 2345 4322 2345 4270 2320z" fill="#000"/>
<ellipse cx="4200" cy="1917" rx="52" ry="60" fill="#000"/>
<path d="M4150 1890Q4200 1870 4248 1878L4250 1900Q4200 1905 4152 1912z" fill="#22ADE6"/>
<path d="M4177 1910Q4215 1912 4250 1900L4248 1935Q4225 1935 4205 1955 4190 1935 4178 1940z" fill="#fff"/>
<circle cx="4200" cy="1925" r="5" fill="#000"/><circle cx="4232" cy="1922" r="5" fill="#000"/>

<!-- STEP 7 -->
<text class="n" x="4845" y="1482" font-size="51" textLength="72" lengthAdjust="spacingAndGlyphs">STEP</text>
<text class="n" x="4852" y="1641" font-size="198" textLength="61" lengthAdjust="spacingAndGlyphs" stroke="#000" stroke-width="2">7</text>
<rect x="4933" y="1446" width="3" height="246" fill="#000"/>
<text class="n" x="4962" y="1547" font-size="145" textLength="454" lengthAdjust="spacingAndGlyphs" stroke="#000" stroke-width="2">INCOMING!</text>
<path class="s" d="M4946 1561H5708"/>
<text class="t" x="4960" y="1598" textLength="763" lengthAdjust="spacingAndGlyphs">The ninja makes an even quicker return journey, bringing to your</text>
<text class="t" x="4960" y="1627" textLength="773" lengthAdjust="spacingAndGlyphs">computer screen the graphical <tspan class="b">website</tspan> of pcninja.us, which is full</text>
<text class="t" x="4960" y="1656" textLength="744" lengthAdjust="spacingAndGlyphs">of data, pictures, and contact information. Thank you for flying</text>
<text class="t" x="4960" y="1685" textLength="449" lengthAdjust="spacingAndGlyphs">with PC Ninja, and enjoy your browse!</text>
<use href="#cl" x="5164" y="1721" width="169" height="85"/>
<use href="#cl" x="4946" y="1792" width="135" height="72"/>
<rect x="5441" y="1801" width="389" height="278" fill="#22ADE6"/>
<rect x="5388" y="1829" width="56" height="210" fill="#77CFF5"/>
<rect x="5470" y="1829" width="336" height="212" fill="#77CFF5"/><rect x="5768" y="1829" width="38" height="212" fill="#fff"/>
<path d="M5578 1818 5455 1826V2040H5800" fill="none" stroke="#000" stroke-width="3"/>
<path d="M5460 2045 5440 2085 5740 2090" fill="none" stroke="#22ADE6" stroke-width="3"/>
<path d="M5455 2055H5772" stroke="#000" stroke-width="3"/>
<circle cx="5793" cy="2062" r="5" fill="none" stroke="#000" stroke-width="2"/>
<rect x="5575" y="2079" width="112" height="36" fill="#22ADE6"/>
<text class="n w" x="5474" y="1976" font-size="62" textLength="251" lengthAdjust="spacingAndGlyphs" stroke="#fff" stroke-width="1.5">C NiNJA</text>
<rect x="5440" y="1935" width="5" height="40" fill="#fff"/>
<path d="M5441 2119H5834L5912 2215V2238H5346V2215z" fill="#22ADE6"/>
<path d="M5445 2130H5830L5880 2205H5385z" fill="url(#ky)"/>
<path d="M5346 2215H5912" stroke="#000" stroke-width="3"/>
<path d="M4892 2068H5385M4892 2215H5319" stroke="#000" stroke-width="3"/>
<path d="M5122 2139H5360" stroke="#000" stroke-width="3" stroke-dasharray="28 18"/>
<path d="M5091 2052 5385 1844M5147 2190 5388 2032" stroke="#000" stroke-width="2.5"/>
<circle cx="5389" cy="1844" r="8" fill="#fff" stroke="#000" stroke-width="2"/><circle cx="5389" cy="2032" r="8" fill="#fff" stroke="#000" stroke-width="2"/>
<path d="M4862 2100Q4880 2063 4960 2063H5220L5273 2060V2120L5200 2125H4920Q4870 2125 4862 2100z" fill="#77CFF5"/>
<path d="M5217 2075 5276 2019V2100L5282 2160 5250 2130z" fill="#77CFF5"/>
<path d="M5000 2068 5070 2018 5085 2018 5090 2068z" fill="#77CFF5"/>
<path d="M5021 2125H5096L5154 2225H5115L5095 2228 5060 2190H5021z" fill="#77CFF5"/>
<g fill="#fff"><rect x="4990" y="2090" width="16" height="14" rx="4"/><rect x="5014" y="2090" width="16" height="14" rx="4"/><rect x="5040" y="2088" width="16" height="14" rx="4"/><rect x="5062" y="2086" width="16" height="14" rx="4"/><rect x="5086" y="2085" width="16" height="14" rx="4"/></g>
<path d="M5010 2110Q5080 2125 5150 2100M5050 2130 5120 2225M5065 2130 5145 2225M4910 2075Q4930 2100 4930 2110M4975 2120 4950 2170M5185 2115 5195 2160M5280 2020V2110M5070 2065 5075 2025" fill="none" stroke="#000" stroke-width="2"/>
<circle cx="4920" cy="2166" r="7" fill="#fff" stroke="#000" stroke-width="2"/><circle cx="5172" cy="2156" r="7" fill="#fff" stroke="#000" stroke-width="2"/>
<path d="M4955 2097H4975V2182H4952zM4955 2115H4975M4955 2130H4975M4955 2145H4975M4955 2160H4975" fill="#fff" stroke="#000" stroke-width="2"/>
</svg>
</body></html>
